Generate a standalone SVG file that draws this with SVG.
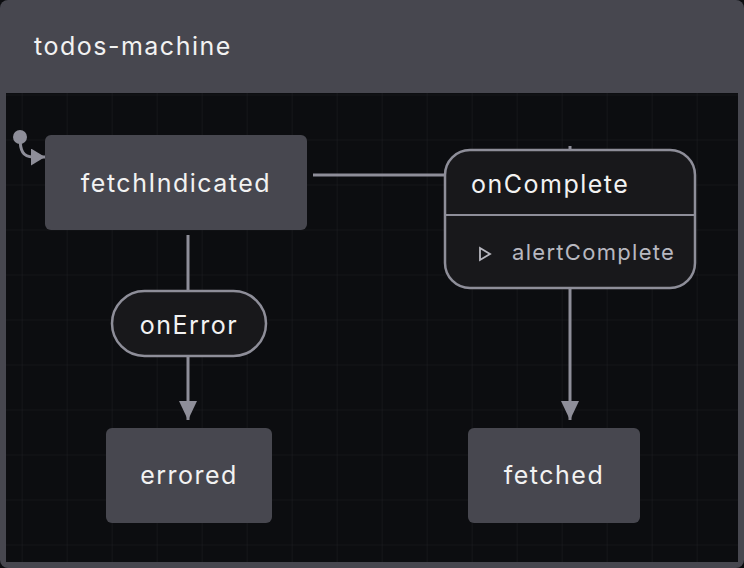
<svg xmlns="http://www.w3.org/2000/svg" width="744" height="568" viewBox="0 0 744 568">
  <defs>
    <pattern id="grid" x="21.7" y="4.5" width="45" height="45" patternUnits="userSpaceOnUse">
      <path d="M0 0 H45 M0 0 V45" fill="none" stroke="#1d1e22" stroke-width="1"/>
    </pattern>
    <marker id="arrow" viewBox="0 0 19 18" refX="19" refY="9" markerWidth="19" markerHeight="18" markerUnits="userSpaceOnUse" orient="auto">
      <path d="M0 0 L19 9 L0 18 Z" fill="#8e8e99"/>
    </marker>
    <marker id="arrowSmall" viewBox="0 0 14 17" refX="14" refY="8.5" markerWidth="14" markerHeight="17" markerUnits="userSpaceOnUse" orient="auto">
      <path d="M0 0 L14 8.5 L0 17 Z" fill="#8e8e99"/>
    </marker>
  </defs>
  <style>
    text { font-family: Inter, "Liberation Sans", sans-serif; }
    .state { fill: #47474f; }
    .label { fill: #f2f2f2; font-size: 25px; letter-spacing: 1.5px; }
    .center { text-anchor: middle; }
    .event { fill: #18181b; stroke: #8e8e99; stroke-width: 2.5; }
    .edge { fill: none; stroke: #8e8e99; stroke-width: 3; }
    .action { fill: #b8b8c0; font-size: 22px; letter-spacing: 1.3px; }
  </style>
  <rect x="0" y="0" width="744" height="568" fill="#0c0d10"/>
  <g id="machine">
    <rect x="0" y="0" width="744" height="568" rx="8" fill="#47474f"/>
    <rect x="6" y="93" width="732" height="469" fill="#0c0d10"/>
    <rect x="6" y="93" width="732" height="469" fill="url(#grid)"/>
    <text x="34" y="55" class="label">todos-machine</text>
  </g>
  <g id="connectors">
    <circle cx="20" cy="137" r="7" fill="#8e8e99"/>
    <path d="M20 137 C20 151 23 157 33 157 H45" class="edge" marker-end="url(#arrowSmall)"/>
    <path d="M313 175 H445" class="edge"/>
    <path d="M570 146 V150" class="edge"/>
    <path d="M570 288 V420" class="edge" marker-end="url(#arrow)"/>
    <path d="M188 235 V291" class="edge"/>
    <path d="M188 357 V420" class="edge" marker-end="url(#arrow)"/>
  </g>
  <g id="fetchIndicated">
    <rect x="45" y="135" width="262" height="95" rx="6" class="state"/>
    <text x="176" y="192" class="label center">fetchIndicated</text>
  </g>
  <g id="onComplete">
    <rect x="445" y="150" width="250" height="138" rx="25" class="event"/>
    <path d="M446 215 H694" stroke="#8e8e99" stroke-width="2"/>
    <text x="471" y="193" class="label">onComplete</text>
    <path d="M480 248 L490 254 L480 260 Z" fill="none" stroke="#b8b8c0" stroke-width="1.8"/>
    <text x="512" y="260" class="action">alertComplete</text>
  </g>
  <g id="onError">
    <rect x="112" y="291" width="154" height="65" rx="32.5" class="event"/>
    <text x="189" y="334" class="label center">onError</text>
  </g>
  <g id="errored">
    <rect x="106" y="428" width="166" height="95" rx="6" class="state"/>
    <text x="189" y="484" class="label center">errored</text>
  </g>
  <g id="fetched">
    <rect x="468" y="428" width="172" height="95" rx="6" class="state"/>
    <text x="554" y="484" class="label center">fetched</text>
  </g>
</svg>
